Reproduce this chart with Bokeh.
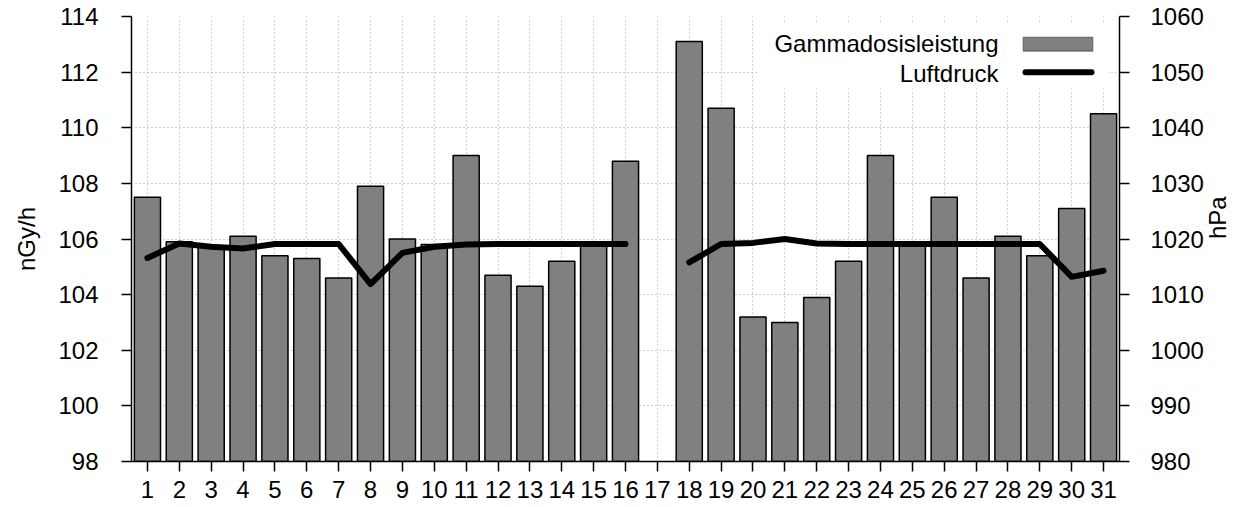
import math
import numpy as np
from bokeh.plotting import figure
from bokeh.models import (Range1d, LinearAxis, FixedTicker, ColumnDataSource,
                          BoxAnnotation, Label)
from bokeh.embed import file_html
from bokeh.resources import INLINE

# ---------------- data ----------------
days = list(range(1, 32))
gamma = [107.5, 105.9, 105.7, 106.1, 105.4, 105.3, 104.6, 107.9, 106.0, 105.8,
         109.0, 104.7, 104.3, 105.2, 105.9, 108.8, None, 113.1, 110.7, 103.2,
         103.0, 103.9, 105.2, 109.0, 105.9, 107.5, 104.6, 106.1, 105.4, 107.1,
         110.5]
pressure = [1016.6, 1019.2, 1018.6, 1018.3, 1019.1, 1019.1, 1019.1, 1011.9, 1017.5, 1018.6,
            1019.0, 1019.1, 1019.1, 1019.1, 1019.1, 1019.1, None, 1015.8, 1019.1, 1019.3,
            1020.0, 1019.2, 1019.1, 1019.1, 1019.1, 1019.1, 1019.1, 1019.1, 1019.1, 1013.2,
            1014.3]
gamma_ticks = list(range(98, 115, 2))
hpa_ticks = list(range(980, 1061, 10))
day_ticks = days
gamma_label = "Gammadosisleistung"
pressure_label = "Luftdruck"
left_title = "nGy/h"
right_title = "hPa"

# ---------------- sources ----------------
bar_src = ColumnDataSource(dict(
    day=[d for d, g in zip(days, gamma) if g is not None],
    gamma=[g for g in gamma if g is not None],
))
line_src = ColumnDataSource(dict(
    day=days,
    hpa=[np.nan if v is None else v for v in pressure],
))

FONT = "Liberation Sans"
FS = "24px"

p = figure(width=1247, height=507,
           x_range=Range1d(0.5, 31.5), y_range=Range1d(98, 114),
           output_backend="svg", toolbar_location=None,
           min_border_left=131, min_border_right=127,
           min_border_top=16, min_border_bottom=46)
p.extra_y_ranges = {"hpa": Range1d(980, 1060)}
p.outline_line_color = None
p.background_fill_color = "white"
p.border_fill_color = "white"

right_axis = LinearAxis(y_range_name="hpa")
p.add_layout(right_axis, "right")

p.xaxis.ticker = FixedTicker(ticks=day_ticks)
p.yaxis[0].ticker = FixedTicker(ticks=gamma_ticks)
right_axis.ticker = FixedTicker(ticks=hpa_ticks)

for ax in [p.xaxis[0], p.yaxis[0], right_axis]:
    ax.axis_line_color = "black"
    ax.axis_line_width = 1.5
    ax.major_tick_line_color = "black"
    ax.major_tick_line_width = 1.5
    ax.major_tick_out = 10
    ax.major_tick_in = 0
    ax.minor_tick_line_color = None
    ax.major_label_text_font = FONT
    ax.major_label_text_font_size = FS
    ax.major_label_text_color = "black"
    ax.axis_label_text_font = FONT
    ax.axis_label_text_font_size = FS
    ax.axis_label_text_font_style = "normal"
    ax.axis_label_text_color = "black"

p.xaxis.major_label_standoff = 9
p.yaxis[0].major_label_standoff = 23
p.yaxis[0].axis_label = left_title
p.yaxis[0].axis_label_standoff = 15
right_axis.major_label_standoff = 21
right_axis.axis_label = right_title
right_axis.axis_label_standoff = 11
if "axis_label_orientation" in LinearAxis.properties():
    right_axis.axis_label_orientation = math.pi / 2

for g in [p.xgrid[0], p.ygrid[0]]:
    g.grid_line_color = "#a0a0a0"
    g.grid_line_dash = "1 3"
    g.grid_line_width = 1

p.vbar(x="day", top="gamma", bottom=98, width=0.82, source=bar_src,
       fill_color="#808080", line_color="black", line_width=1.5)
p.line(x="day", y="hpa", source=line_src, y_range_name="hpa",
       line_color="black", line_width=6, line_cap="round", line_join="round")

# ---------------- legend (label left of key, as in the original) ----------------
p.add_layout(BoxAnnotation(left=627, right=977, bottom=373, top=439,
                           left_units="screen", right_units="screen",
                           bottom_units="screen", top_units="screen",
                           fill_color="white", fill_alpha=1.0, line_color=None))
p.add_layout(BoxAnnotation(left=891.7, right=961.3, bottom=410.3, top=424.3,
                           left_units="screen", right_units="screen",
                           bottom_units="screen", top_units="screen",
                           fill_color="#808080", fill_alpha=1.0,
                           line_color="black", line_width=1.5))
p.add_layout(BoxAnnotation(left=891, right=963, bottom=386.3, top=392.3,
                           left_units="screen", right_units="screen",
                           bottom_units="screen", top_units="screen",
                           fill_color="black", fill_alpha=1.0, line_color=None,
                           border_radius=3))
for txt, yy in [(gamma_label, 417.6), (pressure_label, 387.7)]:
    p.add_layout(Label(x=867, y=yy, x_units="screen", y_units="screen",
                       text=txt, text_align="right", text_baseline="middle",
                       text_font=FONT, text_font_size=FS, text_color="black"))

open("out.html", "w").write(file_html(p, INLINE))
